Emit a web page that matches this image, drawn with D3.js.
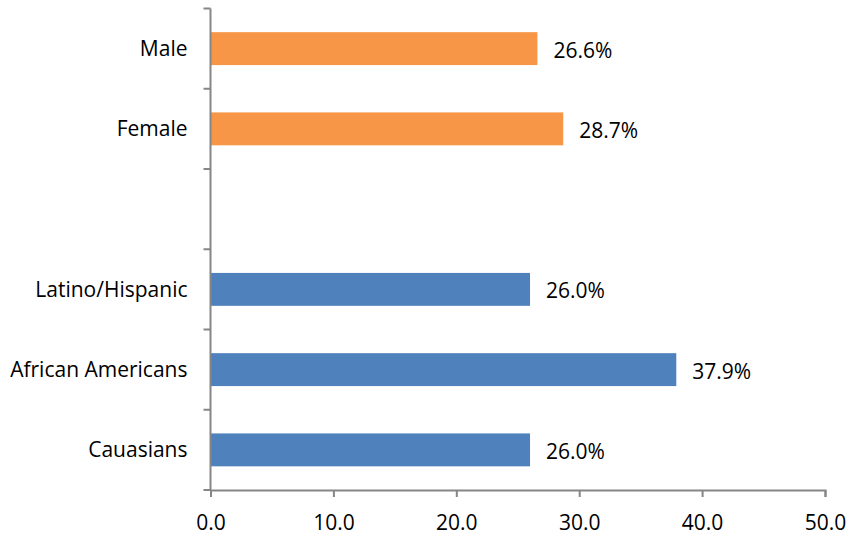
<!DOCTYPE html>
<html>
<head>
<meta charset="utf-8">
<script src="https://cdn.jsdelivr.net/npm/d3@7"></script>
<style>
  html, body { margin: 0; padding: 0; background: #fff; }
  svg text { font-family: "Open Sans", "Noto Sans", sans-serif; fill: #000; }
</style>
</head>
<body>
<svg id="chart" width="848" height="537"></svg>
<script>
// Rates by gender and by race/ethnicity (percent)
const genderCategories = ["Male", "Female"];
const genderValues = [26.6, 28.7];
const raceCategories = ["Latino/Hispanic", "African Americans", "Cauasians"];
const raceValues = [26.0, 37.9, 26.0];
const xTicks = [0, 10, 20, 30, 40, 50];

const genderColor = "#F79646";
const raceColor = "#4F81BD";
const fontSize = 21;

// One empty slot separates the two groups
const gap = "\u00a0";
const rows = [
  ...genderCategories.map((c, i) => ({ cat: c, value: genderValues[i], color: genderColor })),
  { cat: gap, value: null },
  ...raceCategories.map((c, i) => ({ cat: c, value: raceValues[i], color: raceColor }))
];

const svg = d3.select("#chart");
const plotLeft = 210.5, plotRight = 825, plotTop = 8.5, plotBottom = 490;

const x = d3.scaleLinear().domain([0, 50]).range([plotLeft, plotRight]);
const y = d3.scaleBand()
  .domain(rows.map(r => r.cat))
  .range([plotTop, plotBottom])
  .paddingInner(0.59)
  .paddingOuter(0.295);

const axisColor = "#868686";

// Bars
svg.append("g").selectAll("rect")
  .data(rows.filter(r => r.value !== null))
  .join("rect")
  .attr("x", x(0))
  .attr("y", d => y(d.cat))
  .attr("width", d => x(d.value) - x(0))
  .attr("height", y.bandwidth())
  .attr("fill", d => d.color);

// Value labels
svg.append("g").selectAll("text")
  .data(rows.filter(r => r.value !== null))
  .join("text")
  .attr("x", d => x(d.value) + 16)
  .attr("y", d => y(d.cat) + y.bandwidth() / 2)
  .attr("dy", "0.43em")
  .attr("font-size", fontSize)
  .text(d => d.value.toFixed(1) + "%");

// Category labels
svg.append("g").selectAll("text")
  .data(rows.filter(r => r.value !== null))
  .join("text")
  .attr("x", plotLeft - 23)
  .attr("y", d => y(d.cat) + y.bandwidth() / 2)
  .attr("dy", "0.36em")
  .attr("text-anchor", "end")
  .attr("font-size", fontSize)
  .text(d => d.cat);

// Vertical axis with tick marks at band boundaries
const step = y.step();
const boundaries = d3.range(rows.length + 1).map(i => plotTop + i * step);
const yAxis = svg.append("g");
yAxis.append("line")
  .attr("x1", plotLeft).attr("x2", plotLeft)
  .attr("y1", plotTop).attr("y2", plotBottom)
  .attr("stroke", axisColor).attr("stroke-width", 2);
yAxis.selectAll("line.tick")
  .data(boundaries)
  .join("line")
  .attr("class", "tick")
  .attr("x1", plotLeft - 7).attr("x2", plotLeft)
  .attr("y1", d => d).attr("y2", d => d)
  .attr("stroke", axisColor).attr("stroke-width", 2);

// Horizontal axis
const xAxis = svg.append("g")
  .attr("transform", `translate(0,${plotBottom})`)
  .call(d3.axisBottom(x).tickValues(xTicks).tickFormat(d3.format(".1f")).tickSize(7).tickPadding(18));
xAxis.select(".domain").attr("stroke", axisColor).attr("stroke-width", 2);
xAxis.selectAll(".tick line").attr("stroke", axisColor).attr("stroke-width", 2);
xAxis.selectAll(".tick text")
  .attr("font-size", fontSize)
  .attr("font-family", "'Open Sans', 'Noto Sans', sans-serif")
  .attr("fill", "#000");
</script>
</body>
</html>
